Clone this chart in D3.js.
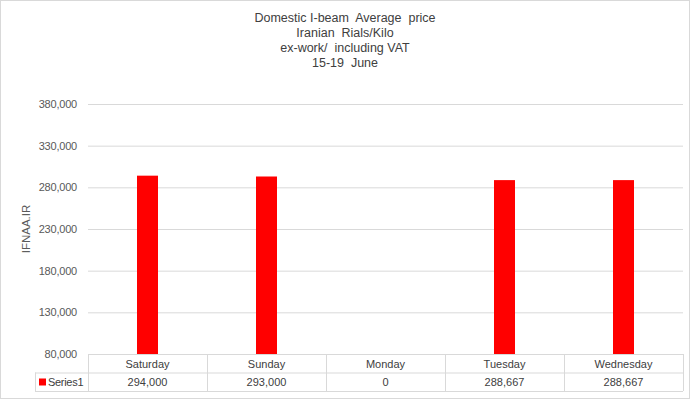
<!DOCTYPE html>
<html>
<head>
<meta charset="utf-8">
<script src="https://cdn.jsdelivr.net/npm/d3@7"></script>
<style>
  body { margin: 0; background: #fff; }
  svg { font-family: "Liberation Sans", Arial, sans-serif; }
</style>
</head>
<body>
<div id="chart"></div>
<script>
var days = ["Saturday", "Sunday", "Monday", "Tuesday", "Wednesday"];
var prices = [294000, 293000, 0, 288667, 288667];
var yTicks = [80000, 130000, 180000, 230000, 280000, 330000, 380000];
var titleLines = ["Domestic I-beam  Average  price", "Iranian  Rials/Kilo", "ex-work/  including VAT", "15-19  June"];
var seriesName = "Series1";

var width = 690, height = 399;
var svg = d3.select("#chart").append("svg")
  .attr("width", width)
  .attr("height", height);

// chart border
svg.append("rect")
  .attr("x", 0.5).attr("y", 0.5)
  .attr("width", width - 1).attr("height", height - 1)
  .attr("fill", "#fff").attr("stroke", "#d9d9d9");

var plotLeft = 88, plotRight = 683, plotTop = 104, plotBottom = 354;

var x = d3.scaleBand().domain(days).range([plotLeft, plotRight]);
var y = d3.scaleLinear().domain([80000, 380000]).range([plotBottom, plotTop]);

// title
svg.selectAll("title_text")
  .data(titleLines)
  .enter()
  .append("text")
  .attr("x", width / 2)
  .attr("y", function(d, i) { return 22 + i * 15; })
  .attr("text-anchor", "middle")
  .style("font-size", "12.5px")
  .style("fill", "#404040")
  .style("white-space", "pre")
  .text(function(d) { return d; });

// gridlines + y labels
var yAxis = d3.axisLeft(y).tickValues(yTicks)
  .tickSize(-(plotRight - plotLeft))
  .tickPadding(11)
  .tickFormat(d3.format(","));
var gy = svg.append("g")
  .attr("transform", "translate(" + plotLeft + ",0)")
  .call(yAxis);
gy.select(".domain").remove();
gy.selectAll(".tick line").attr("stroke", "#d9d9d9");
gy.selectAll(".tick text")
  .style("font-size", "11px")
  .style("letter-spacing", "-0.2px")
  .style("fill", "#595959")
  .style("font-family", "'Liberation Sans', Arial, sans-serif");
gy.selectAll(".tick").filter(function(d) { return d === 80000; })
  .select("line").remove();

// y title
svg.append("text")
  .attr("transform", "translate(30," + ((plotTop + plotBottom) / 2) + ") rotate(-90)")
  .attr("text-anchor", "middle")
  .style("font-size", "11.5px")
  .style("fill", "#595959")
  .text("IFNAA.IR");

// bars
var barW = 21;
svg.selectAll("bar")
  .data(prices)
  .enter()
  .append("rect")
  .attr("x", function(d, i) { return x(days[i]) + x.bandwidth() / 2 - barW / 2; })
  .attr("y", function(d) { return y(Math.max(d, 80000)); })
  .attr("width", barW)
  .attr("height", function(d) { return y(80000) - y(Math.max(d, 80000)); })
  .attr("fill", "#ff0000");

// data table
var rowH = 18.5;
var row1 = plotBottom, row2 = plotBottom + rowH, row3 = plotBottom + 2 * rowH;
var legendLeft = 35;
var grid = svg.append("g").attr("stroke", "#d9d9d9").attr("fill", "none");
grid.append("line").attr("x1", plotLeft).attr("x2", plotRight).attr("y1", row1 + 0.5).attr("y2", row1 + 0.5);
grid.append("line").attr("x1", legendLeft).attr("x2", plotRight).attr("y1", row2 + 0.5).attr("y2", row2 + 0.5);
grid.append("line").attr("x1", legendLeft).attr("x2", plotRight).attr("y1", row3 + 0.5).attr("y2", row3 + 0.5);
grid.append("line").attr("x1", legendLeft + 0.5).attr("x2", legendLeft + 0.5).attr("y1", row2).attr("y2", row3);
grid.selectAll("vline")
  .data(days.concat(["end"]))
  .enter()
  .append("line")
  .attr("x1", function(d, i) { return Math.round(plotLeft + i * x.bandwidth()) + 0.5; })
  .attr("x2", function(d, i) { return Math.round(plotLeft + i * x.bandwidth()) + 0.5; })
  .attr("y1", row1)
  .attr("y2", row3);

svg.selectAll("day_text")
  .data(days)
  .enter()
  .append("text")
  .attr("x", function(d) { return x(d) + x.bandwidth() / 2; })
  .attr("y", row1 + 13.5)
  .attr("text-anchor", "middle")
  .style("font-size", "11px")
  .style("fill", "#404040")
  .text(function(d) { return d; });

svg.selectAll("val_text")
  .data(prices)
  .enter()
  .append("text")
  .attr("x", function(d, i) { return x(days[i]) + x.bandwidth() / 2; })
  .attr("y", row2 + 13.5)
  .attr("text-anchor", "middle")
  .style("font-size", "11px")
  .style("fill", "#404040")
  .text(function(d) { return d3.format(",")(d); });

// legend key
svg.append("rect")
  .attr("x", legendLeft + 4).attr("y", row2 + 6)
  .attr("width", 7).attr("height", 7)
  .attr("fill", "#ff0000");
svg.append("text")
  .attr("x", legendLeft + 13).attr("y", row2 + 13.5)
  .style("font-size", "11px")
  .style("letter-spacing", "-0.3px")
  .style("fill", "#404040")
  .text(seriesName);
</script>
</body>
</html>
